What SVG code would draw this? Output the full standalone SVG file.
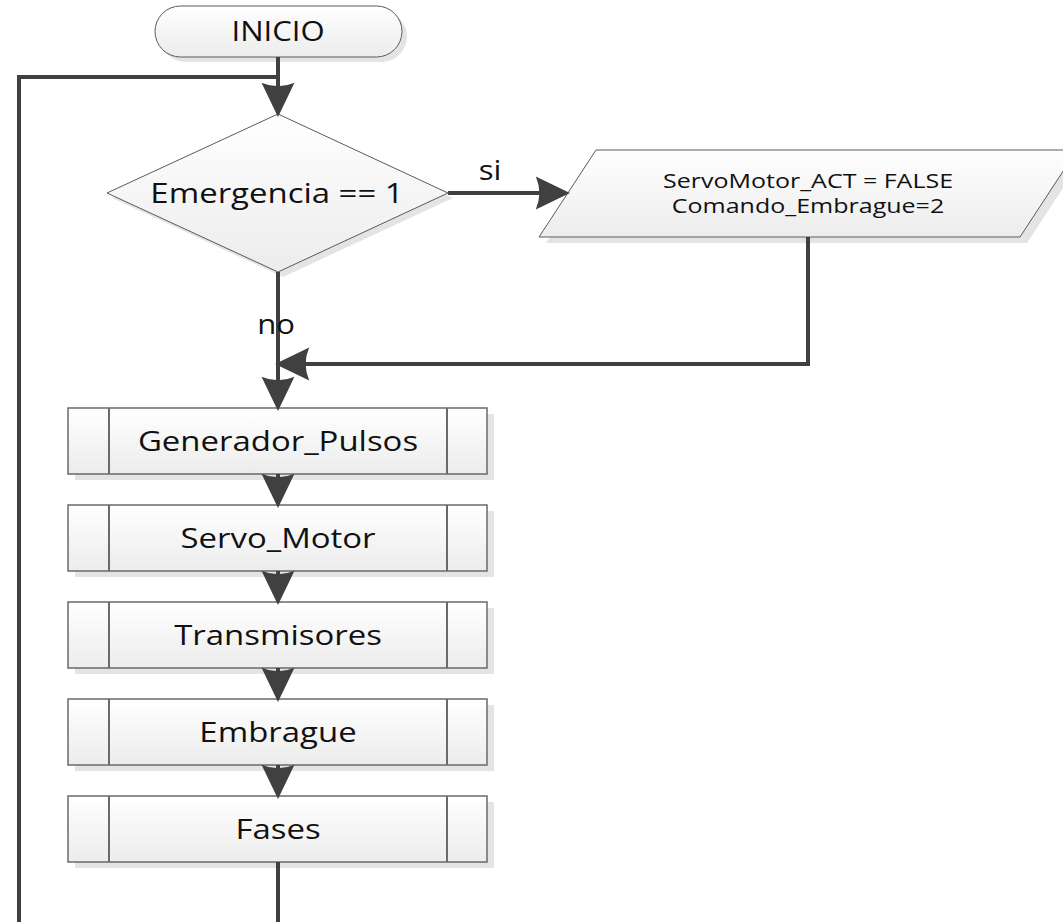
<svg xmlns="http://www.w3.org/2000/svg" width="1063" height="922" viewBox="0 0 1063 922">
  <defs>
    <linearGradient id="fillGrad" x1="0" y1="0" x2="0" y2="1">
      <stop offset="0" stop-color="#ffffff"/>
      <stop offset="1" stop-color="#ececec"/>
    </linearGradient>
    <marker id="arrow" markerUnits="userSpaceOnUse" markerWidth="40" markerHeight="40" viewBox="-2 -16 34 32" refX="18" refY="0" orient="auto">
      <path d="M29,0 L0,-14 Q6,0 0,14 Z" fill="#404040"/>
    </marker>
    <style>
      .shape { fill: url(#fillGrad); stroke: #6a6a6a; stroke-width: 1.5; }
      .thin { fill: url(#fillGrad); stroke: #5a5a5a; stroke-width: 1; }
      .shadow { fill: #e4e4e4; stroke: none; }
      .bar { stroke: #6a6a6a; stroke-width: 2; fill: none; }
      .label { font-family: "Open Sans", "Liberation Sans", sans-serif; font-size: 27px; fill: #111; text-anchor: middle; }
      .small { font-size: 20.5px; }
      .conn { fill: none; stroke: #404040; stroke-width: 4; }
    </style>
  </defs>

  <rect width="1063" height="922" fill="#ffffff"/>

  <!-- start terminal -->
  <g id="inicio">
    <rect class="shadow" x="160" y="11" width="247" height="51" rx="25.5"/>
    <rect class="thin" x="155" y="6" width="247" height="51" rx="25.5"/>
    <text class="label" transform="matrix(1.15 0 0 1 278 41)">INICIO</text>
  </g>

  <!-- decision -->
  <g id="emergencia">
    <polygon class="shadow" points="283,119 453,198 283,277 112,198"/>
    <polygon class="thin" points="278,114 448,193 278,272 107,193"/>
    <text class="label" transform="matrix(1.22 0 0 1 277 203)">Emergencia == 1</text>
  </g>

  <!-- output data -->
  <g id="servo-off">
    <polygon class="shadow" points="603,156 1084,156 1027,243 546,243"/>
    <polygon class="thin" points="596,150 1077,150 1020,237 539,237"/>
    <text class="label small" transform="matrix(1.22 0 0 1 808 188)">ServoMotor_ACT = FALSE</text>
    <text class="label small" transform="matrix(1.22 0 0 1 808 213)">Comando_Embrague=2</text>
  </g>

  <!-- predefined processes -->
  <g id="generador-pulsos">
    <rect class="shadow" x="75" y="414" width="419" height="66"/>
    <rect class="shape" x="68" y="408" width="419" height="66"/>
    <line class="bar" x1="109" y1="408" x2="109" y2="474"/>
    <line class="bar" x1="447" y1="408" x2="447" y2="474"/>
    <text class="label" transform="matrix(1.22 0 0 1 278 451)">Generador_Pulsos</text>
  </g>

  <g id="servo-motor">
    <rect class="shadow" x="75" y="511" width="419" height="66"/>
    <rect class="shape" x="68" y="505" width="419" height="66"/>
    <line class="bar" x1="109" y1="505" x2="109" y2="571"/>
    <line class="bar" x1="447" y1="505" x2="447" y2="571"/>
    <text class="label" transform="matrix(1.22 0 0 1 278 548)">Servo_Motor</text>
  </g>

  <g id="transmisores">
    <rect class="shadow" x="75" y="608" width="419" height="66"/>
    <rect class="shape" x="68" y="602" width="419" height="66"/>
    <line class="bar" x1="109" y1="602" x2="109" y2="668"/>
    <line class="bar" x1="447" y1="602" x2="447" y2="668"/>
    <text class="label" transform="matrix(1.22 0 0 1 278 645)">Transmisores</text>
  </g>

  <g id="embrague">
    <rect class="shadow" x="75" y="705" width="419" height="66"/>
    <rect class="shape" x="68" y="699" width="419" height="66"/>
    <line class="bar" x1="109" y1="699" x2="109" y2="765"/>
    <line class="bar" x1="447" y1="699" x2="447" y2="765"/>
    <text class="label" transform="matrix(1.22 0 0 1 278 742)">Embrague</text>
  </g>

  <g id="fases">
    <rect class="shadow" x="75" y="802" width="419" height="66"/>
    <rect class="shape" x="68" y="796" width="419" height="66"/>
    <line class="bar" x1="109" y1="796" x2="109" y2="862"/>
    <line class="bar" x1="447" y1="796" x2="447" y2="862"/>
    <text class="label" transform="matrix(1.22 0 0 1 278 839)">Fases</text>
  </g>

  <!-- connectors -->
  <g id="connectors">
    <path class="conn" d="M278,57 V104" marker-end="url(#arrow)"/>
    <path class="conn" d="M448,193 H557" marker-end="url(#arrow)"/>
    <path class="conn" d="M278,272 V398" marker-end="url(#arrow)"/>
    <path class="conn" d="M808,237 V364 H288" marker-end="url(#arrow)"/>
    <path class="conn" d="M278,474 V495" marker-end="url(#arrow)"/>
    <path class="conn" d="M278,571 V592" marker-end="url(#arrow)"/>
    <path class="conn" d="M278,668 V689" marker-end="url(#arrow)"/>
    <path class="conn" d="M278,765 V786" marker-end="url(#arrow)"/>
    <path class="conn" d="M278,862 V940 H19 V77 H278"/>
    <text class="label" transform="matrix(1.15 0 0 1 490 180)">si</text>
    <text class="label" transform="matrix(1.15 0 0 1 276 334)">no</text>
  </g>
</svg>
